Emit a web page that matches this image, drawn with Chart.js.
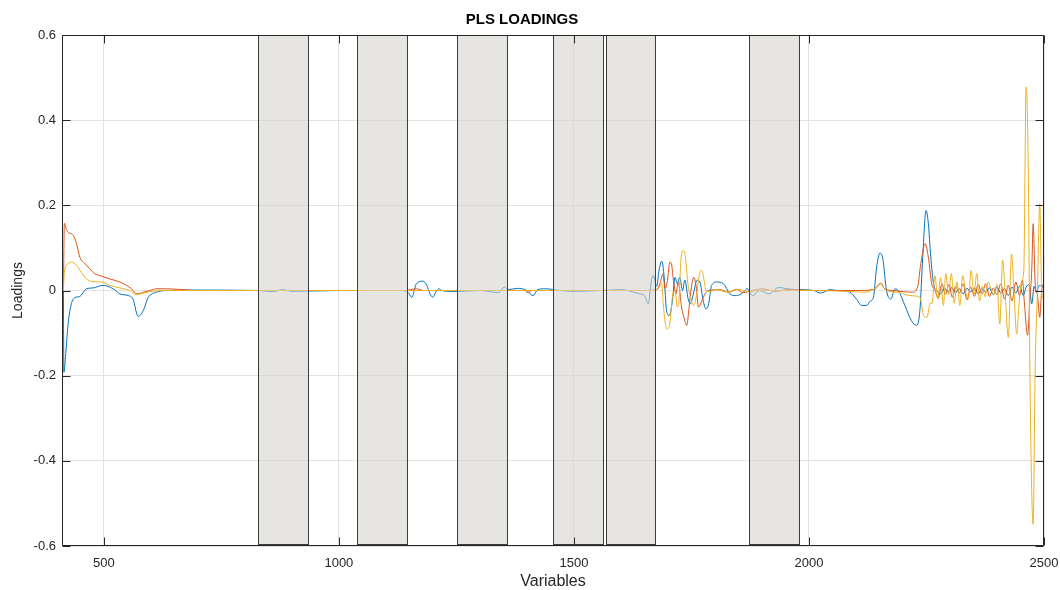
<!DOCTYPE html>
<html>
<head>
<meta charset="utf-8">
<title>PLS LOADINGS</title>
<script src="https://cdn.jsdelivr.net/npm/chart.js@4.4.1/dist/chart.umd.min.js"></script>
<style>
    body { margin: 0; background: #fff; }
    #plsChart { display: block; }
</style>
</head>
<body>
<canvas id="plsChart" width="1060" height="590"></canvas>
<script>
// axis ticks
const xTicks = [500, 1000, 1500, 2000, 2500];
const yTicks = [-0.6, -0.4, -0.2, 0, 0.2, 0.4, 0.6];

// excluded variable intervals (gray boxes)
const excludedFrom = [828, 1038, 1251, 1455, 1568, 1872];
const excludedTo = [934, 1145, 1357, 1562, 1672, 1979];

// loadings, [variable, loading]
const blueLoadings = [
    [414, 0], [415, -0.192], [419, -0.148], [424, -0.078], [431, -0.031], [438, -0.017], [449, -0.014],
    [463, 0.004], [477, 0.006], [498, 0.012], [520, 0.004], [534, -0.008], [552, -0.012], [562, -0.02],
    [573, -0.061], [584, -0.047], [594, -0.017], [612, -0.004], [633, 0], [700, 0.001], [830, 0],
    [860, -0.003], [880, 0.002], [900, -0.002], [1000, 0], [1130, 0], [1147, -0.004], [1155, -0.016],
    [1165, 0.016], [1179, 0.022], [1187, 0.012], [1194, -0.008], [1200, -0.016], [1206, -0.004],
    [1213, 0.004], [1219, 0], [1240, -0.002], [1260, -0.002], [1300, 0], [1340, -0.005], [1352, 0.008],
    [1360, 0.002], [1380, 0.005], [1400, 0], [1413, -0.012], [1423, 0.002], [1440, 0.004], [1470, 0],
    [1500, -0.002], [1560, 0], [1600, 0.002], [1640, -0.008], [1650, -0.012], [1658, -0.031],
    [1665, 0.024], [1669, 0.035], [1676, 0.01], [1681, 0.047], [1687, 0.069], [1692, 0.031],
    [1697, -0.047], [1703, -0.059], [1710, -0.02], [1715, 0.031], [1720, 0.016], [1725, 0.031],
    [1731, 0], [1736, 0.024], [1743, -0.02], [1748, -0.031], [1754, -0.008], [1762, 0.024],
    [1768, 0.02], [1775, -0.024], [1781, -0.043], [1786, -0.035], [1793, 0.012], [1804, 0.02],
    [1818, 0.016], [1832, -0.008], [1843, -0.012], [1853, -0.01], [1864, 0], [1868, 0.005],
    [1880, -0.012], [1895, 0], [1915, -0.008], [1935, 0.007], [1960, 0.003], [1980, 0.002], [2010, 0],
    [2025, -0.006], [2045, 0.002], [2060, 0], [2087, -0.004], [2101, -0.02], [2112, -0.035],
    [2123, -0.035], [2130, -0.025], [2137, -0.016], [2144, 0.055], [2151, 0.088], [2157, 0.075],
    [2165, 0], [2174, -0.02], [2183, 0.004], [2190, 0], [2204, -0.035], [2218, -0.071], [2229, -0.082],
    [2236, -0.047], [2242, 0.078], [2249, 0.188], [2254, 0.157], [2259, 0.08], [2265, 0.016],
    [2272, 0], [2280, -0.008], [2288, 0.006], [2296, -0.004], [2304, 0.007], [2312, -0.006],
    [2320, 0.004], [2328, -0.008], [2336, 0.005], [2344, -0.003], [2352, 0.006], [2360, -0.008],
    [2368, 0.004], [2376, -0.004], [2384, 0.006], [2392, -0.01], [2400, 0.008], [2408, -0.006],
    [2416, 0.005], [2424, -0.012], [2432, 0.008], [2440, -0.006], [2448, 0.01], [2456, -0.012],
    [2462, 0.008], [2468, 0.014], [2474, -0.031], [2479, 0.01], [2484, -0.004], [2490, 0.012],
    [2498, 0.008]
];

const redLoadings = [
    [414, 0], [416, 0.158], [421, 0.141], [435, 0.129], [442, 0.11], [449, 0.078], [460, 0.063],
    [470, 0.051], [481, 0.039], [492, 0.035], [513, 0.027], [534, 0.02], [548, 0.012], [559, 0.004],
    [570, -0.008], [584, -0.004], [598, 0], [612, 0.004], [633, 0.004], [680, 0.001], [700, 0],
    [1140, 0], [1165, 0.004], [1180, 0], [1395, 0], [1402, -0.005], [1410, 0], [1650, 0],
    [1675, 0.002], [1683, 0.016], [1689, 0.039], [1694, 0.005], [1699, 0.024], [1704, 0.067],
    [1708, 0.06], [1711, 0.03], [1717, -0.008], [1722, 0.02], [1729, -0.039], [1736, -0.071],
    [1740, -0.082], [1745, -0.04], [1750, 0.008], [1755, 0.031], [1760, 0.01], [1765, -0.039],
    [1772, -0.025], [1779, -0.008], [1786, 0], [1810, 0.002], [1830, -0.004], [1845, 0.003],
    [1860, -0.005], [1880, 0], [1900, 0.004], [1930, -0.002], [1960, 0.003], [2000, 0], [2100, 0],
    [2140, 0.003], [2148, 0.012], [2153, 0.017], [2161, 0.004], [2180, 0], [2220, -0.004],
    [2231, 0.008], [2238, 0.063], [2247, 0.11], [2254, 0.078], [2261, 0.016], [2268, 0],
    [2275, -0.018], [2283, 0.016], [2290, -0.01], [2298, 0.014], [2305, -0.016], [2312, 0.01],
    [2320, -0.006], [2328, 0.016], [2336, -0.022], [2344, 0.008], [2352, -0.014], [2360, 0.014],
    [2368, -0.008], [2376, 0.016], [2384, -0.014], [2392, 0.006], [2400, -0.01], [2408, 0.016],
    [2416, -0.02], [2424, 0.012], [2432, -0.024], [2440, 0.02], [2448, -0.012], [2454, 0.024],
    [2459, -0.04], [2465, -0.105], [2470, -0.02], [2474, 0.05], [2477, 0.157], [2481, 0.02],
    [2486, -0.01], [2491, -0.063], [2495, 0], [2498, 0.015]
];

const yellowLoadings = [
    [414, 0], [416, 0.043], [424, 0.063], [431, 0.067], [442, 0.059], [452, 0.043], [463, 0.027],
    [477, 0.021], [495, 0.02], [513, 0.012], [534, 0.006], [555, 0], [570, -0.01], [584, -0.006],
    [604, -0.002], [633, 0], [1670, 0], [1680, 0.005], [1687, 0.016], [1690, -0.031], [1695, -0.082],
    [1699, -0.09], [1704, -0.078], [1710, -0.01], [1715, 0], [1720, -0.039], [1723, -0.03],
    [1728, 0.078], [1733, 0.094], [1738, 0.071], [1742, 0.02], [1748, -0.016], [1755, -0.035],
    [1761, -0.01], [1768, 0.043], [1772, 0.047], [1777, 0.024], [1781, 0], [1790, -0.003],
    [1800, 0.002], [1830, -0.004], [1850, 0.003], [1870, -0.002], [1900, 0], [2000, 0],
    [2080, -0.002], [2120, -0.004], [2140, 0.005], [2151, 0.017], [2160, 0.004], [2170, -0.002],
    [2190, -0.004], [2215, -0.012], [2236, -0.016], [2244, -0.059], [2251, -0.063], [2258, -0.03],
    [2262, -0.03], [2268, 0.035], [2274, -0.02], [2280, 0.03], [2286, -0.035], [2291, 0.04],
    [2297, -0.01], [2303, 0.04], [2309, -0.03], [2315, 0.02], [2321, -0.035], [2327, 0.035],
    [2333, 0], [2339, -0.02], [2345, 0.047], [2351, -0.01], [2357, 0.04], [2363, -0.025],
    [2369, 0.01], [2375, -0.015], [2381, 0.02], [2387, 0.005], [2393, -0.01], [2400, 0.015],
    [2406, -0.078], [2412, 0.071], [2418, -0.02], [2424, -0.11], [2431, 0.086], [2436, 0],
    [2442, -0.102], [2447, -0.03], [2452, 0.02], [2457, 0.047], [2462, 0.478], [2467, 0.243],
    [2470, -0.188], [2477, -0.549], [2481, -0.2], [2486, 0], [2491, 0.204], [2495, 0], [2498, -0.02]
];

const toPoints = arr => arr.map(p => ({ x: p[0], y: p[1] }));
const fontFamily = "'Liberation Sans', Arial, sans-serif";
const axisFont = { family: fontFamily, size: 13 };
const textColor = '#262626';

// gray boxes, drawn over the lines, then the axes box with inward ticks
const matlabBox = {
    id: 'matlabBox',
    afterDatasetsDraw(chart) {
        const { ctx, chartArea: a, scales: { x, y } } = chart;
        ctx.save();
        const top = Math.round(y.getPixelForValue(0.6));
        const bottom = Math.round(y.getPixelForValue(-0.595));
        for (let i = 0; i < excludedFrom.length; i++) {
            const l = Math.round(x.getPixelForValue(excludedFrom[i]));
            const r = Math.round(x.getPixelForValue(excludedTo[i]));
            ctx.fillStyle = 'rgba(214, 212, 207, 0.6)';
            ctx.fillRect(l, top, r - l, bottom - top);
            ctx.strokeStyle = '#3c3c3c';
            ctx.lineWidth = 1;
            ctx.strokeRect(l + 0.5, top + 0.5, r - l, bottom - top);
        }

        ctx.strokeStyle = textColor;
        ctx.lineWidth = 1;
        ctx.beginPath();
        const L = Math.round(a.left) + 0.5, R = Math.round(a.right) - 0.5;
        const T = Math.round(a.top) + 0.5, B = Math.round(a.bottom) - 0.5;
        ctx.rect(L, T, R - L, B - T);
        yTicks.forEach(v => {
            const py = Math.round(y.getPixelForValue(v)) + 0.5;
            ctx.moveTo(L, py); ctx.lineTo(L + 8, py);
            ctx.moveTo(R, py); ctx.lineTo(R - 8, py);
        });
        xTicks.forEach(v => {
            const px = Math.round(x.getPixelForValue(v)) + 0.5;
            ctx.moveTo(px, B); ctx.lineTo(px, B - 8);
            ctx.moveTo(px, T); ctx.lineTo(px, T + 8);
        });
        ctx.stroke();
        ctx.restore();
    }
};

const plsCtx = document.getElementById('plsChart').getContext('2d');
new Chart(plsCtx, {
    type: 'line',
    data: {
        datasets: [
            { label: 'LV1', data: toPoints(blueLoadings), borderColor: '#0072BD', order: 3 },
            { label: 'LV2', data: toPoints(redLoadings), borderColor: '#D95319', order: 2 },
            { label: 'LV3', data: toPoints(yellowLoadings), borderColor: '#EDB120', order: 1 }
        ]
    },
    options: {
        responsive: false,
        animation: false,
        datasets: {
            line: { borderWidth: 1, pointRadius: 0, fill: false, cubicInterpolationMode: 'monotone' }
        },
        layout: { padding: { left: 0, right: 16, top: 0, bottom: 0 } },
        plugins: {
            legend: { display: false },
            tooltip: { enabled: false },
            title: {
                display: true,
                text: 'PLS LOADINGS',
                color: '#000',
                font: { family: fontFamily, size: 15, weight: 'bold' },
                padding: { top: 11, bottom: 6 }
            }
        },
        scales: {
            x: {
                type: 'linear',
                min: 411,
                max: 2500,
                afterBuildTicks: s => { s.ticks = xTicks.map(v => ({ value: v })); },
                afterFit: s => { s.height = 44; s.paddingLeft = 0; s.paddingRight = 0; },
                grid: { color: '#e3e3e3', drawTicks: false },
                border: { display: false },
                ticks: { padding: 10, color: textColor, font: axisFont, maxRotation: 0, callback: v => String(v) },
                title: {
                    display: true,
                    text: 'Variables',
                    color: textColor,
                    font: { family: fontFamily, size: 16, lineHeight: 1 },
                    padding: { top: 0, bottom: 0 }
                }
            },
            y: {
                min: -0.6,
                max: 0.6,
                afterBuildTicks: s => { s.ticks = yTicks.map(v => ({ value: v })); },
                afterFit: s => { s.width = 62; s.paddingTop = 0; s.paddingBottom = 0; },
                grid: { color: '#e3e3e3', drawTicks: false },
                border: { display: false },
                ticks: {
                    padding: 6,
                    color: textColor,
                    font: axisFont,
                    callback: v => (Math.abs(v) < 1e-9 ? '0' : v.toFixed(1))
                },
                title: {
                    display: true,
                    text: 'Loadings',
                    color: textColor,
                    font: { family: fontFamily, size: 14 },
                    padding: { top: 10, bottom: 0 }
                }
            }
        }
    },
    plugins: [matlabBox]
});
</script>
</body>
</html>
